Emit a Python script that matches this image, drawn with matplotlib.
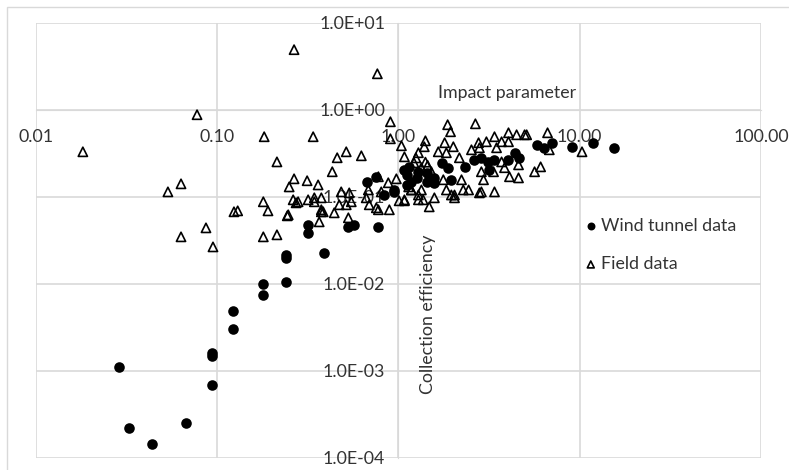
import matplotlib.pyplot as plt
from matplotlib.patches import Rectangle
from matplotlib.ticker import FixedLocator, FuncFormatter

plt.rcParams['font.family'] = ['Lato', 'DejaVu Sans']

# wind tunnel data (impact parameter, collection efficiency)
wind_x = [0.0288, 0.0327, 0.0437, 0.0675, 0.0938, 0.0938, 0.0938, 0.1226, 0.1226,
          0.1796, 0.1796, 0.2406, 0.2406, 0.2406, 0.390, 0.318, 0.318, 0.53, 0.571,
          0.776, 0.674, 0.837, 0.95, 0.756, 0.95, 1.08, 1.14, 1.11, 1.18, 1.29, 1.43,
          1.58, 1.73, 1.89, 1.94, 2.32, 2.6, 2.87, 3.14, 3.35, 4.05, 4.38, 4.6, 3.18,
          1.58, 1.43, 1.11, 1.26, 5.79, 6.33, 7.0, 9.03, 11.9, 15.4]
wind_y = [0.00111, 0.00022, 0.000145, 0.000252, 0.00069, 0.00149, 0.00161, 0.00304, 0.0049,
          0.00748, 0.0100, 0.0105, 0.0200, 0.0215, 0.0227, 0.0386, 0.0477, 0.0453, 0.0477,
          0.0453, 0.149, 0.105, 0.114, 0.17, 0.12, 0.204, 0.221, 0.179, 0.149, 0.194, 0.189,
          0.165, 0.246, 0.216, 0.157, 0.221, 0.266, 0.281, 0.252, 0.266, 0.266, 0.321, 0.281, 0.204,
          0.145, 0.149, 0.137, 0.165, 0.396, 0.366, 0.418, 0.376, 0.418, 0.366]

# field data
field_x = [0.266, 0.766, 0.0776, 0.0182, 0.182, 0.339, 0.904, 0.904, 0.214, 0.46,
           0.516, 0.625, 0.432, 0.0536, 0.0633, 0.266, 0.314, 0.361, 0.25, 0.18,
           0.191, 0.124, 0.13, 0.244, 0.0869, 0.0633, 0.18, 0.214, 0.443, 0.376,
           0.366, 0.53, 0.892, 0.095, 0.776, 0.88, 0.975, 0.263, 0.273, 0.344,
           0.376, 0.344, 0.484, 0.536, 0.55, 0.472, 0.516, 0.683, 0.665, 0.691,
           0.756, 0.805, 1.01, 1.08, 1.18, 1.29, 0.385, 0.247, 0.376, 0.776,
           0.28, 0.318, 1.04, 1.87, 1.94, 2.66, 1.41, 1.39, 1.29, 1.80,
           2.01, 1.84, 1.66, 2.77, 3.06, 3.39, 3.71, 4.05, 4.49, 4.97,
           4.05, 3.48, 2.8, 2.53, 2.17, 1.22, 1.08, 3.71, 4.6, 2.87,
           3.85, 4.1, 4.6, 2.95, 3.35, 2.23, 2.28, 2.87, 3.39, 1.84,
           2.04, 2.44, 1.58, 1.77, 1.34, 1.14, 1.29, 1.37, 1.48, 1.58,
           1.96, 2.04, 2.8, 1.08, 1.18, 1.34, 1.52, 5.1, 6.65, 6.8,
           10.3, 5.64, 6.09, 1.41, 1.45, 1.25]
field_y = [4.9, 2.59, 0.877, 0.329, 0.49, 0.49, 0.728, 0.464, 0.252, 0.281,
           0.329, 0.296, 0.194, 0.114, 0.141, 0.161, 0.153, 0.137, 0.130, 0.0877,
           0.069, 0.0673, 0.069, 0.0605, 0.044, 0.0347, 0.0347, 0.0366, 0.0655, 0.0673,
           0.0516, 0.0574, 0.071, 0.0266, 0.170, 0.145, 0.161, 0.0924, 0.0853, 0.0974,
           0.0974, 0.0877, 0.114, 0.111, 0.0877, 0.081, 0.081, 0.120, 0.0974, 0.081,
           0.0748, 0.114, 0.09, 0.09, 0.120, 0.0924, 0.0673, 0.0621, 0.071, 0.071,
           0.0877, 0.0924, 0.386, 0.673, 0.559, 0.69, 0.44, 0.376, 0.321, 0.418,
           0.376, 0.321, 0.329, 0.418, 0.429, 0.49, 0.429, 0.544, 0.516, 0.516,
           0.429, 0.366, 0.366, 0.347, 0.281, 0.246, 0.288, 0.252, 0.233, 0.194,
           0.216, 0.170, 0.165, 0.157, 0.194, 0.157, 0.12, 0.114, 0.114, 0.12,
           0.105, 0.12, 0.157, 0.157, 0.12, 0.13, 0.105, 0.0924, 0.0767, 0.0974,
           0.105, 0.0974, 0.111, 0.0924, 0.12, 0.216, 0.194, 0.516, 0.544, 0.347,
           0.329, 0.194, 0.221, 0.25, 0.23, 0.28]

x_ticks = [0.01, 0.1, 1, 10, 100]
y_ticks = [1e-4, 1e-3, 1e-2, 1e-1, 1, 10]

grid_col = "#d9d9d9"
txt_col = "#333333"
fs = 12.8

fig = plt.figure(figsize=(7.89, 4.70), dpi=100)
# outer chart border
fig.patches.append(Rectangle((7 / 789, -0.1), 1.2, 1.1 - 7 / 470,
                             transform=fig.transFigure, fill=False,
                             edgecolor=grid_col, linewidth=1))

ax = fig.add_axes([35.7 / 789, 12 / 470, (761 - 35.7) / 789, (458 - 22.7) / 470])
ax.set_xscale("log")
ax.set_yscale("log")
ax.set_xlim(0.01, 100)
ax.set_ylim(1e-4, 10)

ax.scatter(wind_x, wind_y, s=58, marker="o", color="black", linewidths=0,
           label="Wind tunnel data", zorder=3)
ax.scatter(field_x, field_y, s=44, marker="^", facecolors="none", edgecolors="black",
           linewidths=1.2, label="Field data", zorder=4)

# axes cross at x = 1 and y = 1, like in the spreadsheet
for side in ["top", "right"]:
    ax.spines[side].set_visible(False)
ax.spines["left"].set_position(("data", 1))
ax.spines["bottom"].set_position(("data", 1))
ax.spines["left"].set_color(grid_col)
ax.spines["bottom"].set_color(grid_col)

ax.xaxis.set_major_locator(FixedLocator(x_ticks))
ax.yaxis.set_major_locator(FixedLocator(y_ticks))
ax.xaxis.set_minor_locator(FixedLocator([]))
ax.yaxis.set_minor_locator(FixedLocator([]))
ax.xaxis.set_major_formatter(FuncFormatter(lambda v, p: f"{v:.2f}"))
ax.yaxis.set_major_formatter(FuncFormatter(lambda v, p: f"{v:.1E}"))
ax.tick_params(axis="x", length=0, pad=14, labelsize=fs, labelcolor=txt_col)
ax.tick_params(axis="y", length=0, pad=9.5, labelsize=fs, labelcolor=txt_col)

ax.grid(True, color=grid_col, linewidth=1.2, zorder=0)
ax.set_axisbelow(True)
ax.patch.set_visible(False)
for side in ["left", "bottom"]:
    ax.spines[side].set_zorder(0)

ax.text(0.65, 0.838, "Impact parameter", transform=ax.transAxes, ha="center", va="center",
        fontsize=fs, color=txt_col)
ax.text(0.5415, 0.331, "Collection efficiency", transform=ax.transAxes, ha="center", va="center",
        rotation=90, fontsize=fs, color=txt_col)

leg = ax.legend(loc="upper left", bbox_to_anchor=(573 / 789, 1 - 209 / 470),
                bbox_transform=fig.transFigure, frameon=False, fontsize=fs,
                handletextpad=0.1, labelspacing=1.25, handlelength=1.0,
                markerscale=0.75, borderpad=0)
for t in leg.get_texts():
    t.set_color(txt_col)

fig.savefig("out.png", dpi=100)
